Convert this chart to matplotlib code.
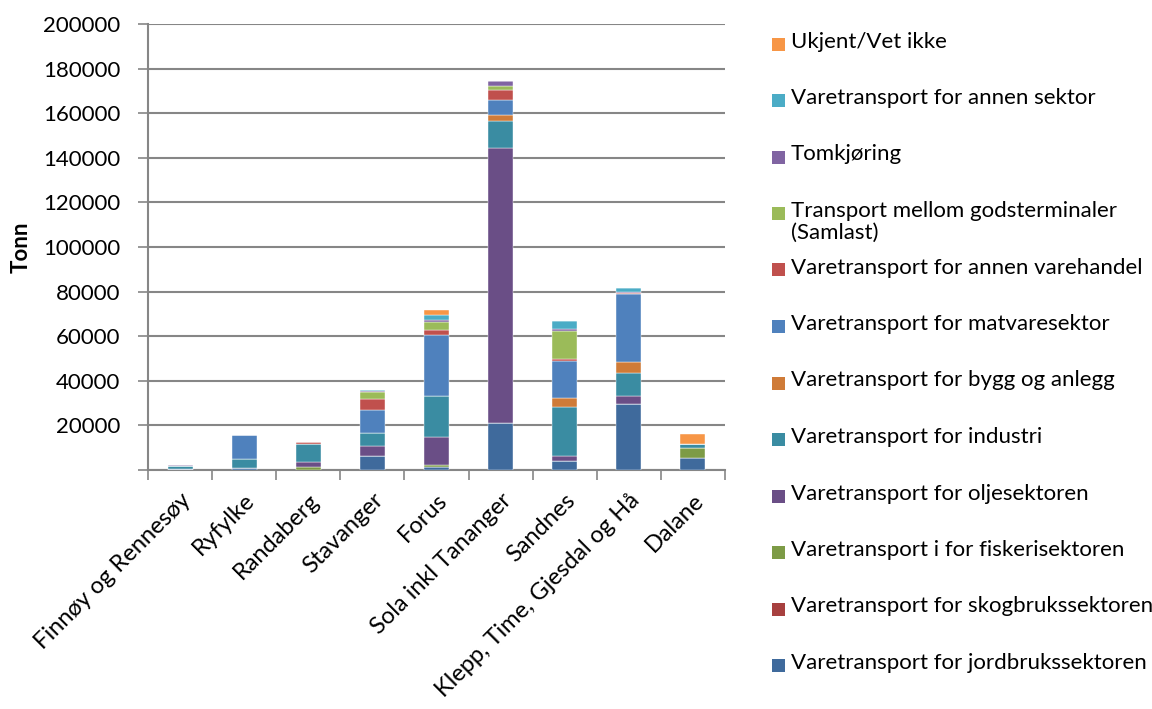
import matplotlib
matplotlib.use("Agg")
import matplotlib.pyplot as plt
from matplotlib.patches import Rectangle
import numpy as np

plt.rcParams['font.family'] = ['Lato', 'DejaVu Sans']

regions = ["Finnøy og Rennesøy", "Ryfylke", "Randaberg", "Stavanger", "Forus",
           "Sola inkl Tananger", "Sandnes", "Klepp, Time, Gjesdal og Hå", "Dalane"]

# stacked from bottom to top
jordbruk = [300, 900, 0, 6400, 1500, 21000, 4200, 29600, 5500]
skogbruk = [0, 0, 0, 0, 0, 0, 0, 0, 0]
fiskeri = [0, 0, 1200, 0, 750, 0, 0, 0, 4500]
olje = [0, 0, 2400, 4500, 12700, 123600, 2200, 3700, 0]
industri = [1500, 3900, 8200, 5500, 18200, 12100, 21700, 10200, 1800]
bygg = [0, 0, 0, 0, 0, 2400, 4200, 4800, 0]
matvare = [0, 10900, 0, 10500, 27600, 6900, 16700, 30800, 0]
varehandel = [0, 0, 750, 4800, 1900, 4500, 750, 400, 0]
samlast = [0, 0, 0, 3100, 3900, 1900, 12600, 0, 0]
tomkjoring = [500, 0, 0, 600, 900, 2100, 1000, 500, 0]
annen_sektor = [0, 0, 0, 450, 1900, 0, 3600, 1600, 0]
ukjent = [0, 0, 0, 0, 2500, 0, 0, 0, 4200]

series = [
    ("Varetransport for jordbrukssektoren", jordbruk, "#3F6A9C"),
    ("Varetransport for skogbrukssektoren", skogbruk, "#A7403F"),
    ("Varetransport i for fiskerisektoren", fiskeri, "#7D9B46"),
    ("Varetransport for oljesektoren", olje, "#6A4E86"),
    ("Varetransport for industri", industri, "#3A8CA2"),
    ("Varetransport for bygg og anlegg", bygg, "#CF7B38"),
    ("Varetransport for matvaresektor", matvare, "#4F81BD"),
    ("Varetransport for annen varehandel", varehandel, "#C0504D"),
    ("Transport mellom godsterminaler\n(Samlast)", samlast, "#9BBB59"),
    ("Tomkjøring", tomkjoring, "#8064A2"),
    ("Varetransport for annen sektor", annen_sektor, "#4BACC6"),
    ("Ukjent/Vet ikke", ukjent, "#F79646"),
]

W, H = 1152, 709
fig = plt.figure(figsize=(W / 100, H / 100), dpi=100)
ax = fig.add_axes([148 / W, 1 - 470 / H, (725 - 148) / W, (470 - 24) / H])

x = np.arange(len(regions))
bottom = np.zeros(len(regions))
for label, vals, color in series:
    vals = np.array(vals, dtype=float)
    ax.bar(x, vals, 0.39, bottom=bottom, color=color, edgecolor="white",
           linewidth=0.3, zorder=3)
    bottom += vals

grid_c = "#868686"
ax.set_xlim(-0.5, len(regions) - 0.5)
ax.set_ylim(0, 200000)
yt = np.arange(0, 200001, 20000)
ax.set_yticks(yt)
ax.set_yticklabels([""] + [str(v) for v in yt[1:]], fontsize=16)
ax.yaxis.grid(True, color=grid_c, linewidth=1.5, zorder=0)
ax.tick_params(axis="y", length=7, width=1.2, color=grid_c, pad=13)

ax.set_xticks(x)
ax.set_xticklabels(regions, rotation=45, ha="right", rotation_mode="anchor",
                   fontsize=17)
ax.set_xticks(np.arange(len(regions) + 1) - 0.5, minor=True)
ax.tick_params(axis="x", which="major", length=0, pad=14)
ax.tick_params(axis="x", which="minor", length=7, width=1.2, color=grid_c)

for s in ["top", "right"]:
    ax.spines[s].set_visible(False)
for s in ["left", "bottom"]:
    ax.spines[s].set_color(grid_c)
    ax.spines[s].set_linewidth(1.5)

ax.set_ylabel("Tonn", fontsize=16, fontweight="bold", labelpad=8)

# legend, drawn top to bottom in reverse stacking order
y0 = 44
step = 56.5
for i, (label, vals, color) in enumerate(series[::-1]):
    yc = y0 + i * step
    fig.patches.append(Rectangle((772 / W, 1 - (yc + 6.5) / H), 13 / W, 13 / H,
                                 transform=fig.transFigure, facecolor=color,
                                 edgecolor="none"))
    fig.text(791 / W, 1 - (yc - 12.5) / H, label, fontsize=16, va="top",
             ha="left", linespacing=1.12)

fig.savefig("out.png", dpi=100)
